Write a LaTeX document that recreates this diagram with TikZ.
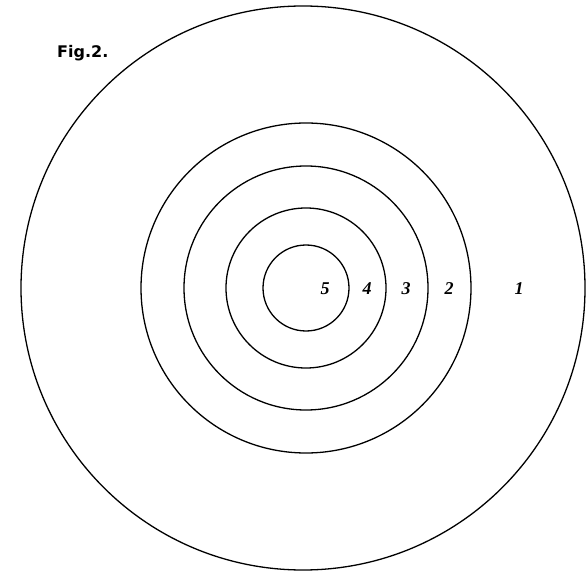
\documentclass[tikz,border=0pt]{standalone}
\usepackage{fontspec}
\newfontfamily\figfont{DejaVu Sans}
\newfontfamily\numfont{Liberation Serif}
\usetikzlibrary{positioning}
\tikzset{ring/.style={draw=black,line width=1.3pt},
  ringlabel/.style={font=\numfont\fontsize{18}{20}\selectfont\bfseries\itshape,inner sep=1pt},
  figlabel/.style={font=\figfont\fontsize{16}{18}\selectfont\bfseries,anchor=base west,inner sep=0pt}}
\begin{document}
\begin{tikzpicture}[x=1pt,y=1pt]
\useasboundingbox (0,0) rectangle (586,571);
\coordinate (ctr) at (306,283);
\draw[ring] (303,283) circle (282);
\foreach \r in {165,122,80,43}
  \draw[ring] (ctr) circle (\r);
\node[ringlabel] (five) at (325,282) {5};
\node[ringlabel] (four) at (367,282) {4};
\node[ringlabel] (three) at (406,282) {3};
\node[ringlabel] (two) at (449,282) {2};
\node[ringlabel] (one) at (519,282) {1};
\node[figlabel] (fig) at (57,513) {Fig.2.};
\end{tikzpicture}
\end{document}
